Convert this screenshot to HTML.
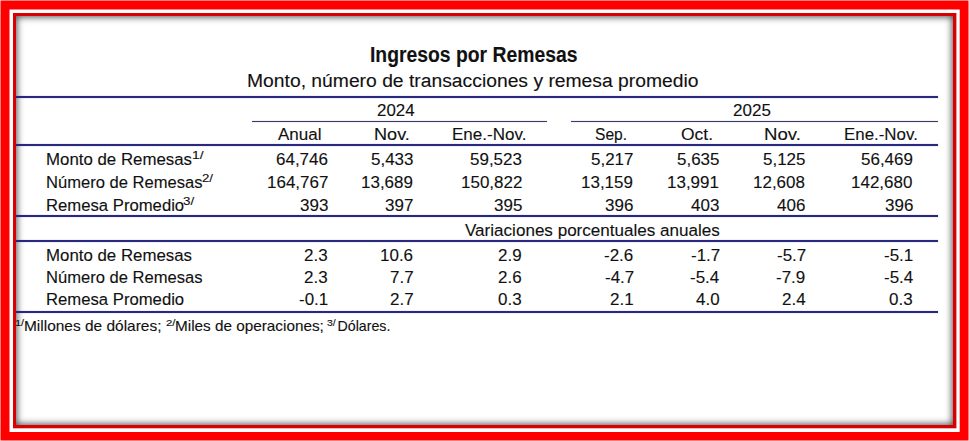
<!DOCTYPE html>
<html><head><meta charset="utf-8"><title>Ingresos por Remesas</title>
<style>
html,body{margin:0;padding:0;width:969px;height:441px;overflow:hidden;background:#fff}
#frame{position:absolute;left:0;top:0}
#content{position:absolute;left:16px;top:16px;width:937px;height:409px;background:#fff;box-shadow:inset 0 0 7px 1px rgba(0,0,0,0.7)}
.ln{position:absolute;box-shadow:0 0 1px rgba(70,70,170,0.8)}
.t{position:absolute;white-space:nowrap;line-height:normal;transform-origin:0 0;font-family:"Liberation Sans",sans-serif;color:#111;-webkit-text-stroke:0.12px #111}
</style></head><body>
<svg id="frame" width="969" height="441" viewBox="0 0 969 441">
<rect x="0" y="0" width="969" height="441" fill="#fff"/>
<rect x="0.5" y="0.5" width="968" height="440" fill="#ff0000"/>
<rect x="9.5" y="9.5" width="950.2" height="422.5" fill="#fff"/>
<rect x="13" y="13" width="943.4" height="415.3" fill="#d80000"/>
</svg>
<div id="content"></div>
<div class="ln" style="left:16px;top:96px;width:922px;height:2px;background:#28287c"></div><div class="ln" style="left:252px;top:121px;width:295px;height:1px;background:#3c3c64"></div><div class="ln" style="left:571px;top:121px;width:367px;height:1px;background:#3c3c64"></div><div class="ln" style="left:16px;top:144px;width:922px;height:2px;background:#28287c"></div><div class="ln" style="left:16px;top:215px;width:922px;height:2px;background:#28287c"></div><div class="ln" style="left:16px;top:240px;width:922px;height:2px;background:#28287c"></div><div class="ln" style="left:16px;top:311px;width:922px;height:2px;background:#28287c"></div>
<div class="t" style="left:370.24px;top:42.61px;font-size:21.5px;font-weight:bold;transform:scaleX(0.8995)">Ingresos por Remesas</div><div class="t" style="left:247.46px;top:70.90px;font-size:18.0px;transform:scaleX(1.0720)">Monto, número de transacciones y remesa promedio</div><div class="t" style="left:377.32px;top:100.70px;font-size:16.8px;transform:scaleX(1.0065)">2024</div><div class="t" style="left:733.26px;top:100.70px;font-size:16.8px;transform:scaleX(1.0144)">2025</div><div class="t" style="left:277.88px;top:124.70px;font-size:16.8px;transform:scaleX(1.0127)">Anual</div><div class="t" style="left:373.78px;top:124.70px;font-size:16.8px;transform:scaleX(1.0790)">Nov.</div><div class="t" style="left:452.12px;top:124.70px;font-size:16.8px;transform:scaleX(1.0137)">Ene.-Nov.</div><div class="t" style="left:595.26px;top:124.70px;font-size:16.8px;transform:scaleX(0.9284)">Sep.</div><div class="t" style="left:680.81px;top:124.70px;font-size:16.8px;transform:scaleX(1.0404)">Oct.</div><div class="t" style="left:764.29px;top:124.70px;font-size:16.8px;transform:scaleX(1.1082)">Nov.</div><div class="t" style="left:844.08px;top:124.70px;font-size:16.8px;transform:scaleX(1.0064)">Ene.-Nov.</div><div class="t" style="left:45.99px;top:149.60px;font-size:16.8px;transform:scaleX(1.0036)">Monto de Remesas</div><div class="t" style="left:191.86px;top:149.20px;font-size:10.6px;transform:scaleX(1.3041)">1/</div><div class="t" style="left:275.92px;top:149.60px;font-size:16.8px;transform:scaleX(1.0120)">64,746</div><div class="t" style="left:371.28px;top:149.60px;font-size:16.8px;transform:scaleX(1.0120)">5,433</div><div class="t" style="left:470.22px;top:149.60px;font-size:16.8px;transform:scaleX(1.0120)">59,523</div><div class="t" style="left:590.75px;top:149.60px;font-size:16.8px;transform:scaleX(1.0120)">5,217</div><div class="t" style="left:677.10px;top:149.60px;font-size:16.8px;transform:scaleX(1.0120)">5,635</div><div class="t" style="left:763.10px;top:149.60px;font-size:16.8px;transform:scaleX(1.0120)">5,125</div><div class="t" style="left:860.98px;top:149.60px;font-size:16.8px;transform:scaleX(1.0120)">56,469</div><div class="t" style="left:46.02px;top:172.51px;font-size:16.8px;transform:scaleX(0.9869)">Número de Remesas</div><div class="t" style="left:202.23px;top:172.20px;font-size:10.6px;transform:scaleX(1.2503)">2/</div><div class="t" style="left:266.63px;top:172.51px;font-size:16.8px;transform:scaleX(1.0120)">164,767</div><div class="t" style="left:361.38px;top:172.51px;font-size:16.8px;transform:scaleX(1.0120)">13,689</div><div class="t" style="left:460.93px;top:172.51px;font-size:16.8px;transform:scaleX(1.0120)">150,822</div><div class="t" style="left:581.28px;top:172.51px;font-size:16.8px;transform:scaleX(1.0120)">13,159</div><div class="t" style="left:667.35px;top:172.51px;font-size:16.8px;transform:scaleX(1.0120)">13,991</div><div class="t" style="left:753.49px;top:172.51px;font-size:16.8px;transform:scaleX(1.0120)">12,608</div><div class="t" style="left:851.40px;top:172.51px;font-size:16.8px;transform:scaleX(1.0120)">142,680</div><div class="t" style="left:45.99px;top:195.70px;font-size:16.8px;transform:scaleX(0.9941)">Remesa Promedio</div><div class="t" style="left:183.23px;top:194.70px;font-size:10.6px;transform:scaleX(1.2603)">3/</div><div class="t" style="left:299.66px;top:195.70px;font-size:16.8px;transform:scaleX(1.0120)">393</div><div class="t" style="left:384.51px;top:195.70px;font-size:16.8px;transform:scaleX(1.0120)">397</div><div class="t" style="left:493.71px;top:195.70px;font-size:16.8px;transform:scaleX(1.0120)">395</div><div class="t" style="left:605.06px;top:195.70px;font-size:16.8px;transform:scaleX(1.0120)">396</div><div class="t" style="left:691.26px;top:195.70px;font-size:16.8px;transform:scaleX(1.0120)">403</div><div class="t" style="left:777.26px;top:195.70px;font-size:16.8px;transform:scaleX(1.0120)">406</div><div class="t" style="left:884.76px;top:195.70px;font-size:16.8px;transform:scaleX(1.0120)">396</div><div class="t" style="left:464.75px;top:220.51px;font-size:16.8px;transform:scaleX(1.0169)">Variaciones porcentuales anuales</div><div class="t" style="left:45.99px;top:245.51px;font-size:16.8px;transform:scaleX(1.0036)">Monto de Remesas</div><div class="t" style="left:304.15px;top:245.51px;font-size:16.8px;transform:scaleX(1.0120)">2.3</div><div class="t" style="left:380.21px;top:245.51px;font-size:16.8px;transform:scaleX(1.0120)">10.6</div><div class="t" style="left:498.13px;top:245.51px;font-size:16.8px;transform:scaleX(1.0120)">2.9</div><div class="t" style="left:603.90px;top:245.51px;font-size:16.8px;transform:scaleX(1.0120)">-2.6</div><div class="t" style="left:690.76px;top:245.51px;font-size:16.8px;transform:scaleX(1.0120)">-1.7</div><div class="t" style="left:776.76px;top:245.51px;font-size:16.8px;transform:scaleX(1.0120)">-5.7</div><div class="t" style="left:883.72px;top:245.51px;font-size:16.8px;transform:scaleX(1.0120)">-5.1</div><div class="t" style="left:46.02px;top:268.20px;font-size:16.8px;transform:scaleX(0.9869)">Número de Remesas</div><div class="t" style="left:304.15px;top:268.20px;font-size:16.8px;transform:scaleX(1.0120)">2.3</div><div class="t" style="left:389.53px;top:268.20px;font-size:16.8px;transform:scaleX(1.0120)">7.7</div><div class="t" style="left:498.45px;top:268.20px;font-size:16.8px;transform:scaleX(1.0120)">2.6</div><div class="t" style="left:604.56px;top:268.20px;font-size:16.8px;transform:scaleX(1.0120)">-4.7</div><div class="t" style="left:690.01px;top:268.20px;font-size:16.8px;transform:scaleX(1.0120)">-5.4</div><div class="t" style="left:776.22px;top:268.20px;font-size:16.8px;transform:scaleX(1.0120)">-7.9</div><div class="t" style="left:883.51px;top:268.20px;font-size:16.8px;transform:scaleX(1.0120)">-5.4</div><div class="t" style="left:45.99px;top:290.41px;font-size:16.8px;transform:scaleX(0.9941)">Remesa Promedio</div><div class="t" style="left:298.62px;top:290.41px;font-size:16.8px;transform:scaleX(1.0120)">-0.1</div><div class="t" style="left:389.53px;top:290.41px;font-size:16.8px;transform:scaleX(1.0120)">2.7</div><div class="t" style="left:498.45px;top:290.41px;font-size:16.8px;transform:scaleX(1.0120)">0.3</div><div class="t" style="left:610.15px;top:290.41px;font-size:16.8px;transform:scaleX(1.0120)">2.1</div><div class="t" style="left:696.00px;top:290.41px;font-size:16.8px;transform:scaleX(1.0120)">4.0</div><div class="t" style="left:782.05px;top:290.41px;font-size:16.8px;transform:scaleX(1.0120)">2.4</div><div class="t" style="left:889.25px;top:290.41px;font-size:16.8px;transform:scaleX(1.0120)">0.3</div><div class="t" style="left:15.21px;top:318.00px;font-size:9.0px;transform:scaleX(1.2206)">1/</div><div class="t" style="left:24.35px;top:318.22px;font-size:14.2px;transform:scaleX(1.0893)">Millones de dólares;</div><div class="t" style="left:165.81px;top:318.00px;font-size:9.0px;transform:scaleX(1.2728)">2/</div><div class="t" style="left:174.62px;top:318.22px;font-size:14.2px;transform:scaleX(1.0784)">Miles de operaciones;</div><div class="t" style="left:327.18px;top:318.00px;font-size:9.0px;transform:scaleX(1.1509)">3/</div><div class="t" style="left:337.51px;top:318.22px;font-size:14.2px;transform:scaleX(1.0000)">Dólares.</div>
</body></html>
